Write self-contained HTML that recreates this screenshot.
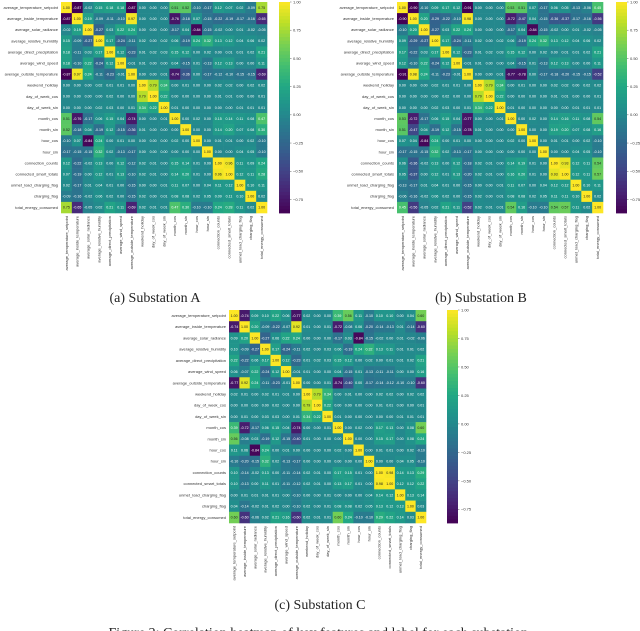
<!DOCTYPE html>
<html><head><meta charset="utf-8">
<style>
html,body{margin:0;padding:0;background:#fff;}
svg{display:block;font-family:"Liberation Sans",sans-serif;}
.cap{font-family:"Liberation Serif",serif;font-size:14px;fill:#222;}
</style></head>
<body>
<svg id="fig" width="640" height="631" viewBox="0 0 640 631" xmlns="http://www.w3.org/2000/svg">
<g id="panels"></g>
<text class="cap" x="155" y="302" text-anchor="middle">(a) Substation A</text>
<text class="cap" x="481" y="302" text-anchor="middle">(b) Substation B</text>
<text class="cap" x="320" y="609" text-anchor="middle">(c) Substation C</text>
<text class="cap" x="320" y="637" text-anchor="middle">Figure 2: Correlation heatmap of key features and label for each substation.</text>
</svg>
<script>
const features = ["average_temperature_setpoint","average_inside_temperature","average_solar_radiance","average_relative_humidity","average_direct_precipitation","average_wind_speed","average_outside_temperature","weekend_holiday","day_of_week_cos","day_of_week_sin","month_cos","month_sin","hour_cos","hour_sin","connection_counts","connected_smart_totals","unmet_load_charging_flag","charging_flag","total_energy_consumed"];
const cbTicks = [1.00,0.75,0.50,0.25,0.00,-0.25,-0.50,-0.75];
const upperA = [
[-0.87,-0.02,0.15,0.18,0.18,-0.87,0.00,0.00,0.00,0.51,0.52,-0.10,-0.17,0.12,0.07,0.02,-0.09,0.75],
[0.19,-0.09,-0.11,-0.10,0.97,0.00,0.00,0.00,-0.76,-0.18,0.07,-0.15,-0.22,-0.19,-0.17,-0.16,-0.65],
[-0.27,0.03,0.22,0.24,0.00,0.00,0.00,-0.17,0.04,-0.84,-0.15,-0.02,0.00,0.01,-0.02,-0.05],
[0.17,-0.24,-0.11,0.02,0.00,0.02,0.06,-0.19,0.24,0.32,0.13,0.12,0.04,0.06,0.02],
[0.12,-0.23,0.01,0.02,0.03,0.15,0.12,0.00,0.02,0.00,0.01,0.01,0.02,0.21],
[-0.01,0.01,0.00,0.00,0.04,-0.15,0.01,-0.13,0.12,0.13,0.00,0.00,0.11],
[0.00,0.00,0.01,-0.74,-0.36,0.00,-0.17,-0.12,-0.10,-0.15,-0.15,-0.69],
[0.79,0.34,0.00,0.01,0.00,0.00,0.02,0.02,0.00,0.02,0.02],
[0.22,0.00,0.00,0.00,0.00,0.01,0.01,0.00,0.00,0.01],
[0.01,0.00,0.00,0.00,0.00,0.00,0.01,0.01,0.01],
[0.00,0.02,0.00,0.15,0.14,0.11,0.08,0.47],
[0.00,0.00,0.14,0.20,0.07,0.08,0.30],
[0.00,0.01,0.01,0.00,0.02,-0.10],
[0.00,0.00,0.04,0.05,-0.10],
[0.96,0.11,0.09,0.24],
[0.12,0.11,0.28],
[0.10,0.11],
[0.02]];
const upperB = [
[-0.90,-0.10,0.09,0.17,0.12,-0.91,0.00,0.00,0.00,0.53,0.51,0.07,-0.17,0.06,0.05,-0.13,-0.06,0.45],
[0.20,-0.29,-0.22,-0.10,0.98,0.00,0.00,0.00,-0.72,-0.47,0.04,-0.15,-0.36,-0.37,-0.17,-0.16,-0.56],
[-0.27,0.03,0.22,0.24,0.00,0.00,0.00,-0.17,0.04,-0.84,-0.15,-0.02,0.00,0.01,-0.02,-0.05],
[0.17,-0.24,-0.11,0.02,0.00,0.02,0.06,-0.19,0.24,0.32,0.13,0.12,0.04,0.06,0.02],
[0.12,-0.23,0.01,0.02,0.03,0.15,0.12,0.00,0.02,0.00,0.01,0.01,0.02,0.21],
[-0.01,0.01,0.00,0.00,0.04,-0.15,0.01,-0.13,0.12,0.13,0.00,0.00,0.11],
[0.00,0.00,0.01,-0.77,-0.78,0.00,-0.17,-0.18,-0.20,-0.15,-0.15,-0.52],
[0.79,0.34,0.00,0.01,0.00,0.00,0.02,0.02,0.00,0.02,0.02],
[0.22,0.00,0.00,0.00,0.00,0.01,0.01,0.00,0.00,0.01],
[0.01,0.00,0.00,0.00,0.00,0.00,0.01,0.01,0.01],
[0.00,0.02,0.00,0.14,0.16,0.11,0.08,0.54],
[0.00,0.00,0.19,0.20,0.07,0.08,0.16],
[0.00,0.01,0.01,0.00,0.02,-0.10],
[0.00,0.00,0.04,0.05,-0.10],
[0.93,0.12,0.11,0.54],
[0.12,0.11,0.57],
[0.10,0.11],
[0.02]];
const upperC = [
[-0.74,0.09,0.10,0.22,0.06,-0.77,0.02,0.00,0.00,0.39,0.56,0.11,-0.10,0.10,0.10,0.00,0.04,0.60],
[0.20,-0.09,-0.22,-0.07,0.92,0.01,0.00,0.01,-0.72,-0.08,0.06,-0.20,-0.14,-0.13,0.01,-0.14,-0.60],
[-0.27,0.06,0.22,0.24,0.00,0.00,0.00,-0.17,0.03,-0.84,-0.15,-0.02,0.00,0.01,-0.02,-0.06],
[0.17,-0.24,-0.11,0.02,0.00,0.03,0.06,-0.19,0.24,0.32,0.13,0.11,0.01,0.01,0.02],
[0.12,-0.23,0.01,0.02,0.03,0.15,0.12,0.00,0.02,0.00,0.01,0.01,0.02,0.21],
[-0.01,0.01,0.00,0.00,0.04,-0.15,0.01,-0.13,-0.11,-0.11,0.00,0.00,0.16],
[0.00,0.00,0.01,-0.74,-0.40,0.00,-0.17,-0.14,-0.12,-0.10,-0.10,-0.60],
[0.79,0.34,0.00,0.01,0.00,0.00,0.02,0.02,0.00,0.02,0.02],
[0.22,0.00,0.00,0.00,0.00,0.01,0.01,0.00,0.00,0.01],
[0.01,0.00,0.00,0.00,0.00,0.00,0.01,0.01,0.01],
[0.00,0.02,0.00,0.17,0.13,0.00,0.08,0.60],
[0.00,0.00,0.15,0.17,0.00,0.08,0.24],
[0.00,0.01,0.01,0.00,0.02,-0.10],
[0.00,0.00,0.04,0.05,-0.10],
[0.98,0.14,0.13,0.29],
[0.12,0.12,0.22],
[0.13,0.14],
[0.03]];

const VMIN=-0.87, VMAX=1.0;
const vir=[[68,1,84],[72,36,117],[65,68,135],[53,95,141],[42,120,142],[33,145,140],[34,168,132],[68,191,112],[122,209,81],[189,223,38],[253,231,37]];
function color(v){let t=(v-VMIN)/(VMAX-VMIN);t=Math.max(0,Math.min(1,t));const p=t*10,i=Math.min(9,Math.floor(p)),f=p-i;const c=vir[i].map((a,k)=>Math.round(a+(vir[i+1][k]-a)*f));return c;}
const NS="http://www.w3.org/2000/svg";
function mk(tag,attrs,parent){const e=document.createElementNS(NS,tag);for(const k in attrs)e.setAttribute(k,attrs[k]);parent.appendChild(e);return e;}
function full(up){const n=features.length;const m=[];for(let i=0;i<n;i++){m.push([]);for(let j=0;j<n;j++){m[i].push(i===j?1:(i<j?up[i][j-i-1]:up[j][i-j-1]));}}return m;}
const panels=[
 {id:"a",up:upperA,x:61,y:2,w:206,h:211,cb:279},
 {id:"b",up:upperB,x:397,y:2,w:206,h:211,cb:616},
 {id:"c",up:upperC,x:229,y:310,w:197,h:213,cb:447}];
const root=document.getElementById('panels');
panels.forEach(p=>{
 const g=mk('g',{},root);
 
 
 const m=full(p.up),n=features.length,cw=p.w/n,ch=p.h/n;
 const xs=j=>p.x+j*cw, ys=i=>p.y+i*ch;
 for(let i=0;i<n;i++){for(let j=0;j<n;j++){
  const v=m[i][j],c=color(v);
  const r=mk('rect',{x:xs(j),y:ys(i),width:cw+0.3,height:ch+0.3,fill:`rgb(${c})`},g);
  
  
  const lum=(0.299*c[0]+0.587*c[1]+0.114*c[2]);
  const t=mk('text',{x:xs(j)+cw/2,y:ys(i)+ch/2+1.3,'font-size':3.6,'text-anchor':'middle',fill:lum>150?'#222':'#fff'},g);
  
  
  t.textContent=v.toFixed(2);
 }}
 features.forEach((f,i)=>{
  const t=mk('text',{x:p.x-3,y:ys(i)+ch/2+1.4,'font-size':4,'text-anchor':'end',fill:'#333'},g);
  
  
  t.textContent=f;
  const cx=xs(i)+cw/2, cy=p.y+p.h+3;
  const t2=mk('text',{x:cx+1.4,y:cy,'font-size':4,'text-anchor':'end',fill:'#333',transform:`rotate(-90 ${cx+1.4} ${cy})`},g);
  
  
  t2.textContent=f;
 });
 // colorbar
 const steps=60, cbw=11;
 for(let k=0;k<steps;k++){
  const v=VMAX-(VMAX-VMIN)*(k+0.5)/steps, c=color(v);
  const r=mk('rect',{x:p.cb,y:p.y+k*p.h/steps,width:cbw,height:p.h/steps+0.4,fill:`rgb(${c})`},g);
  
  
 }
 const cbY=v=>p.y+(VMAX-v)/(VMAX-VMIN)*p.h;
 cbTicks.forEach(v=>{
  mk('line',{x1:p.cb+cbw,x2:p.cb+cbw+1.5,y1:cbY(v),y2:cbY(v),stroke:'#333','stroke-width':0.4},g);
  const t=mk('text',{x:p.cb+cbw+3,y:cbY(v)+1.4,'font-size':4,fill:'#333'},g);
  
  
  t.textContent=(v<0?'\u22120':'0')+Math.abs(v).toFixed(2).slice(1);
  if(v===1)t.textContent='1.00';
 });
});
</script>
</body></html>
